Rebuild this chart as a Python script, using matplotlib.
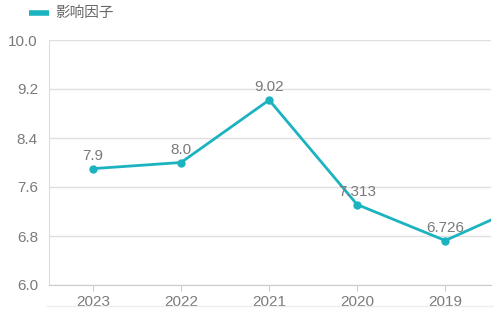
import matplotlib
matplotlib.use("Agg")
import matplotlib.pyplot as plt
from matplotlib.lines import Line2D

plt.rcParams['font.family'] = ['Liberation Sans', 'Noto Sans CJK SC', 'DejaVu Sans']

years = ['2023', '2022', '2021', '2020', '2019', '2018']
impact = [7.9, 8.0, 9.02, 7.313, 6.726, 7.37]
labels = ['7.9', '8.0', '9.02', '7.313', '6.726', '7.37']
yticks = [6.0, 6.8, 7.6, 8.4, 9.2, 10.0]

teal = '#1bb3c0'
grey_txt = '#7a7a7a'

fig = plt.figure(figsize=(5.04, 3.26), dpi=100)
ax = fig.add_axes([49 / 504, 41 / 326, 442 / 504, 245 / 326])

x = list(range(len(years)))
ax.plot(x, impact, color=teal, lw=2, marker='o', ms=5, clip_on=True, zorder=3)
for xi, v, s in zip(x, impact, labels):
    ax.annotate(s, (xi, v), xytext=(0, 4), textcoords='offset points',
                ha='center', va='bottom', fontsize=11, color=grey_txt,
                annotation_clip=True, zorder=4)

ax.set_xlim(-0.5, 4.52)
ax.set_ylim(6.0, 10.0)
ax.set_yticks(yticks)
ax.set_yticklabels([f'{t:.1f}' for t in yticks])
ax.set_xticks(x[:5])
ax.set_xticklabels(years[:5])

ax.grid(axis='y', color='#e0e0e0', lw=1)
ax.set_axisbelow(True)
for side in ['top', 'right']:
    ax.spines[side].set_visible(False)
ax.spines['left'].set_color('#dddddd')
ax.spines['bottom'].set_color('#cccccc')
ax.tick_params(axis='y', length=0, pad=8, labelsize=11, labelcolor=grey_txt)
ax.tick_params(axis='x', length=4, color='#cccccc', pad=3, labelsize=11,
               labelcolor=grey_txt)

# legend row at the top
fig.add_artist(Line2D([29 / 504, 49 / 504], [1 - 13 / 326, 1 - 13 / 326],
                      color=teal, lw=4, solid_capstyle='butt'))
fig.text(55 / 504, 1 - 13 / 326, '影响因子', fontsize=10.5, color='#666666',
         va='center', ha='left')

# thin rule under the category labels
fig.add_artist(Line2D([47 / 504, 493 / 504], [1 - 306 / 326, 1 - 306 / 326],
                      color='#eeeeee', lw=1))

fig.savefig('out.png', dpi=100)
